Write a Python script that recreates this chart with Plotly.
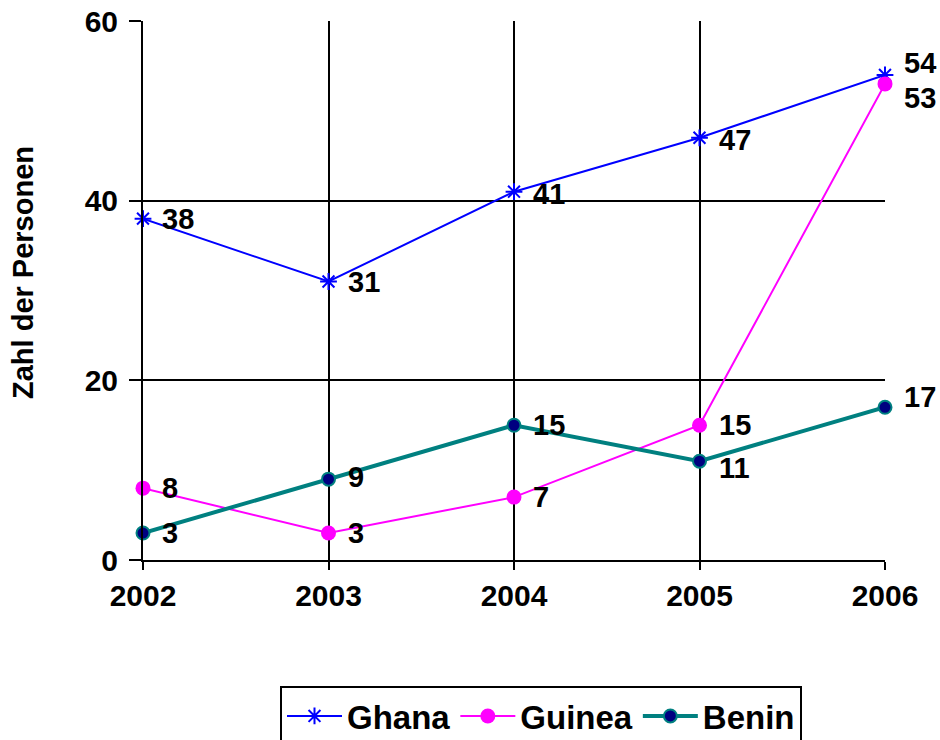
import plotly.graph_objects as go

years = [2002, 2003, 2004, 2005, 2006]
ghana = [38, 31, 41, 47, 54]
guinea = [8, 3, 7, 15, 53]
benin = [3, 9, 15, 11, 17]

# vertical nudges of the value labels (px, positive = up)
ghana_dy = [0, 0, -2, -2, 12]
guinea_dy = [0, 0, 0, 0, -14]
benin_dy = [0, 2, 0, -7, 10]

font_family = "Liberation Sans, Arial, sans-serif"
FS_TICK = 30
FS_LAB = 29
lab_font = dict(family=font_family, size=FS_LAB, color="black", weight="bold")

fig = go.Figure()
fig.add_trace(go.Scatter(
    x=years, y=ghana, name="Ghana", mode="lines+markers",
    line=dict(color="#0000FF", width=2),
    marker=dict(symbol="asterisk-open", size=14, color="#0000FF", line=dict(width=2, color="#0000FF")),
    cliponaxis=False,
))
fig.add_trace(go.Scatter(
    x=years, y=guinea, name="Guinea", mode="lines+markers",
    line=dict(color="#FF00FF", width=2),
    marker=dict(symbol="circle", size=15, color="#FF00FF"),
    cliponaxis=False,
))
fig.add_trace(go.Scatter(
    x=years, y=benin, name="Benin", mode="lines+markers",
    line=dict(color="#008080", width=4),
    marker=dict(symbol="circle", size=13, color="#000080", line=dict(width=2, color="#008080")),
    cliponaxis=False,
))

W, H = 940, 740
L, R, T, B = 143, 55, 21, 180
pw = W - L - R
ph = H - T - B

annotations = []
for series, dys in ((ghana, ghana_dy), (guinea, guinea_dy), (benin, benin_dy)):
    for x, v, dy in zip(years, series, dys):
        annotations.append(dict(
            x=x, y=v, xref="x", yref="y", text=str(v), showarrow=False,
            xanchor="left", yanchor="middle", xshift=17, yshift=dy,
            font=lab_font,
        ))
annotations.append(dict(
    text="Zahl der Personen", x=(23 - L) / pw, y=(H - B - 273) / ph,
    xref="paper", yref="paper", xanchor="center", yanchor="middle",
    showarrow=False, textangle=-90,
    font=dict(family=font_family, size=29, color="black", weight="bold"),
))

fig.update_layout(
    width=W, height=H,
    margin=dict(l=L, r=R, t=T, b=B, autoexpand=False),
    plot_bgcolor="white", paper_bgcolor="white",
    font=dict(family=font_family, size=FS_TICK, color="black", weight="bold"),
    showlegend=True,
    legend=dict(
        orientation="h", x=(541 - L) / pw, xanchor="center", y=(H - B - 686) / ph, yanchor="top",
        bordercolor="black", borderwidth=2, bgcolor="white",
        font=dict(family=font_family, size=33, color="black", weight="bold"),
        tracegroupgap=0, itemwidth=55,
    ),
    xaxis=dict(
        range=[2002, 2006], tickvals=years, ticktext=[str(y) for y in years],
        showgrid=True, gridcolor="black", gridwidth=2,
        showline=True, linecolor="black", linewidth=2,
        ticks="outside", ticklen=8, tickwidth=2, tickcolor="black",
        zeroline=False, tickfont=dict(size=FS_TICK, weight="bold"), automargin=False,
        ticklabeloverflow="allow",
    ),
    yaxis=dict(
        range=[0, 60], tickvals=[0, 20, 40, 60],
        showgrid=True, gridcolor="black", gridwidth=2,
        showline=True, linecolor="black", linewidth=2,
        ticks="outside", ticklen=12, tickwidth=2, tickcolor="black",
        zeroline=False, tickfont=dict(size=FS_TICK, weight="bold"), automargin=False,
        ticklabeloverflow="allow", ticklabelstandoff=5,
    ),
    annotations=annotations,
)

fig.write_html(
    "out.html",
    config={"displayModeBar": False},
    post_script="document.body.style.margin='0';document.body.style.overflow='hidden';",
)
